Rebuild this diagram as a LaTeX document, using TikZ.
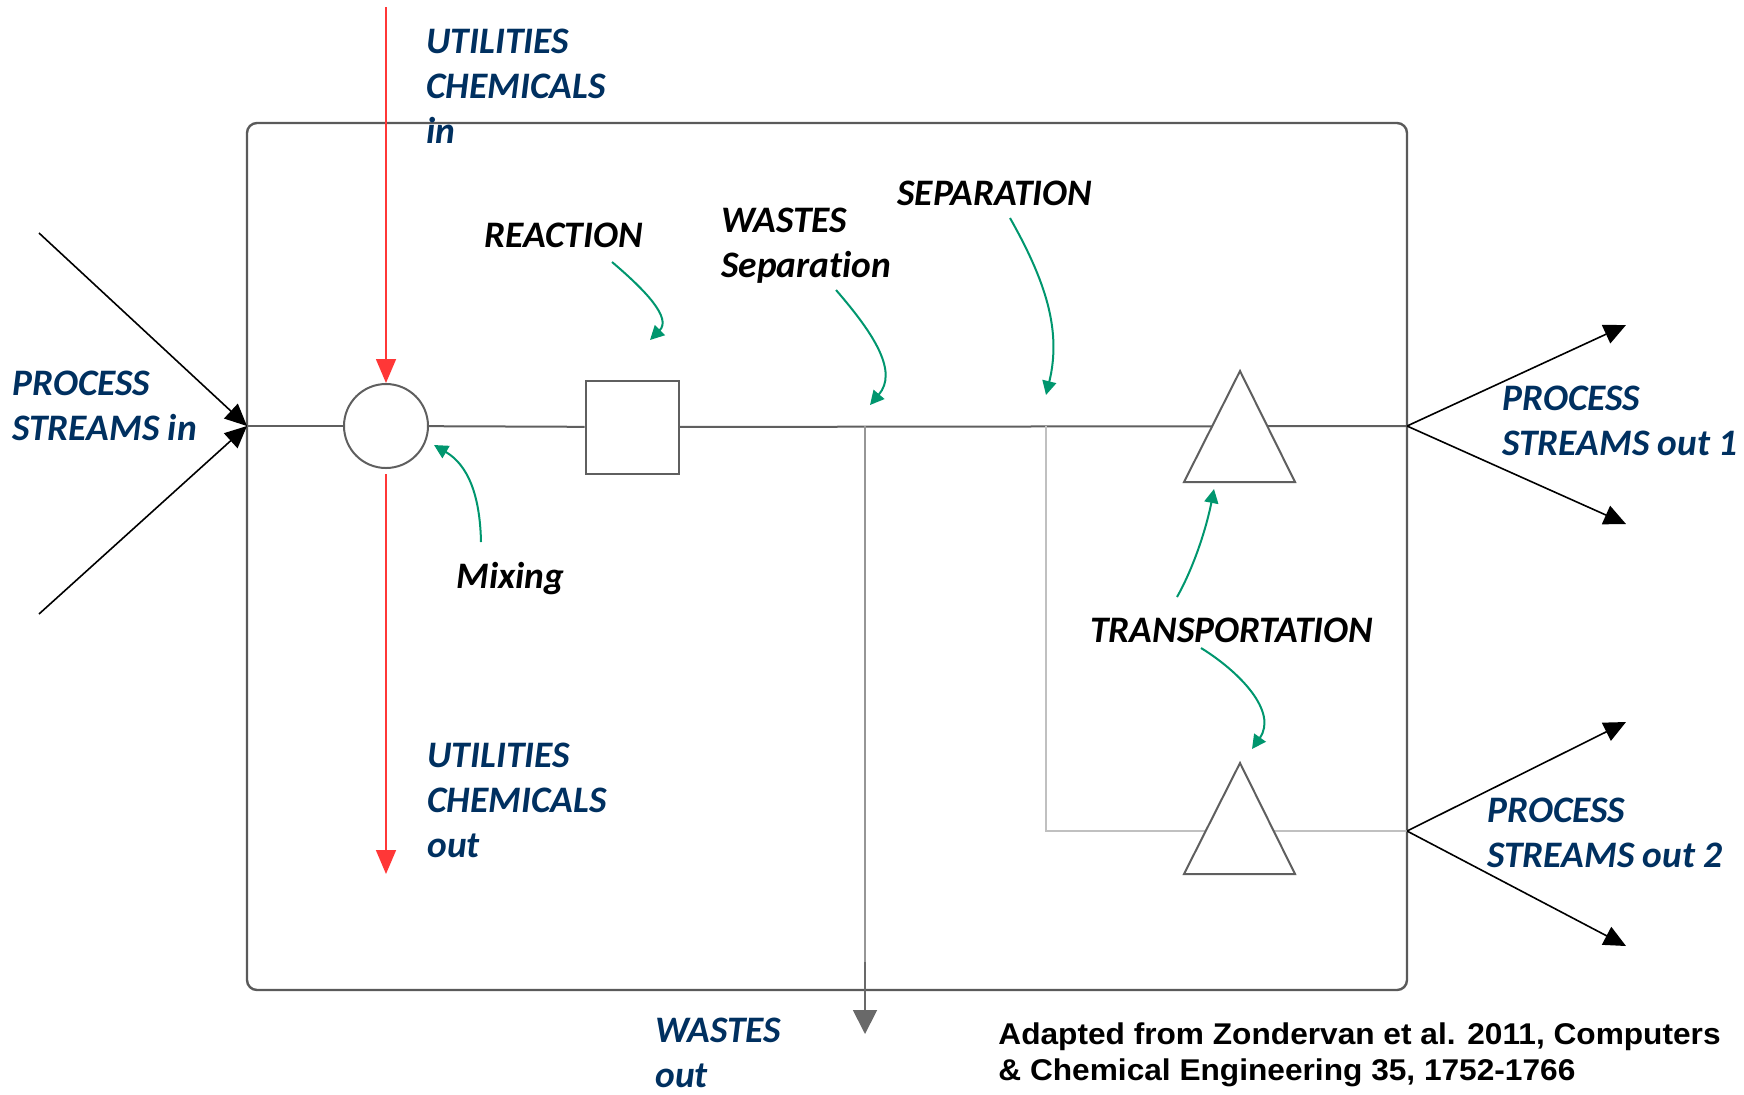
\documentclass[tikz,border=0pt]{standalone}
\usepackage{fontspec}
\setmainfont{Carlito}[RawFeature=-liga]
\newfontfamily\citefont{Liberation Sans}[FakeStretch=1.055]
\usetikzlibrary{arrows.meta,calc}
\definecolor{navy}{RGB}{0,48,96}
\definecolor{grn}{RGB}{0,150,110}
\definecolor{redl}{RGB}{255,55,55}
\definecolor{boxgray}{RGB}{90,90,90}
\definecolor{flowgray}{RGB}{95,95,95}
\definecolor{lightg}{RGB}{192,192,192}
\definecolor{wasteg}{RGB}{150,150,150}
\begin{document}
\begin{tikzpicture}[x=0.5pt,y=-0.5pt,
  lbl/.style={font=\fontsize{18.7}{22.5}\selectfont\bfseries\itshape, inner sep=0pt, anchor=base west, align=left},
  bluelbl/.style={lbl, text=navy},
  blacklbl/.style={lbl, text=black},
  flow/.style={draw=flowgray, line width=1pt},
  unit/.style={draw=flowgray, fill=white, line width=1pt, inner sep=0pt},
  redarrow/.style={draw=redl, line width=0.8pt, -{Triangle[length=12pt,width=10pt]}},
  blkarrow/.style={draw=black, line width=0.8pt, -{Triangle[length=11pt,width=10pt]}},
  grnarrow/.style={draw=grn, line width=1pt, -{Triangle[length=7pt,width=7pt]}},
  wastearrow/.style={draw=wasteg!70!black, line width=0.9pt, -{Triangle[length=12pt,width=12pt]}}
]
\useasboundingbox (0,0) rectangle (1744,1094);

% system box
\draw[draw=boxgray, line width=1.2pt, rounded corners=5pt] (247,123) rectangle (1407,990);

% key coordinates
\coordinate (inlet) at (247,426);
\coordinate (out1) at (1407,426);
\coordinate (out2) at (1407,831);
\coordinate (wj) at (865,426);
\coordinate (wlow) at (865,962);
\coordinate (wout) at (865,1034);
\coordinate (sj) at (1046,426);
\coordinate (sc) at (1046,831);
\coordinate (pin1) at (39,233);
\coordinate (pin2) at (39,614);
\coordinate (o1a) at (1626,325);
\coordinate (o1b) at (1626,524);
\coordinate (o2a) at (1626,722);
\coordinate (o2b) at (1626,946);
\coordinate (uin) at (386,7);
\coordinate (uout) at (386,874);

% units
\node[unit, circle, minimum size=42pt] (mix) at (386,426) {};
\node[unit, minimum size=46.5pt] (reactor) at (632,427) {};

% flows
\draw[flow] (inlet) -- (mix);
\draw[flow] (mix) -- (reactor);
\draw[flow] (reactor) -- (out1);
\draw[draw=wasteg, line width=0.8pt] (wj) -- (wlow);
\draw[wastearrow] (wlow) -- (wout);
\draw[draw=lightg, line width=1pt] (sj) -- (sc) -- (out2);

% pumps / transport
\draw[unit] (1184,482) -- (1240,371) -- (1295,482) -- cycle;
\draw[unit] (1184,874) -- (1240,763) -- (1295,874) -- cycle;

% utilities
\draw[redarrow] (uin) -- (mix);
\draw[redarrow, shorten <=2.5pt] (mix) -- (uout);

% process streams
\draw[blkarrow] (pin1) -- (inlet);
\draw[blkarrow] (pin2) -- (inlet);
\draw[blkarrow] (out1) -- (o1a);
\draw[blkarrow] (out1) -- (o1b);
\draw[blkarrow] (out2) -- (o2a);
\draw[blkarrow] (out2) -- (o2b);

% labels (anchored at the baseline of the last line)
\node[bluelbl] (lpin) at (12,440) {PROCESS\\STREAMS in};
\node[bluelbl] (luin) at (426,143) {UTILITIES\\CHEMICALS\\in};
\node[bluelbl] (luout) at (427,857) {UTILITIES\\CHEMICALS\\out};
\node[bluelbl] (lo1) at (1502,455) {PROCESS\\STREAMS out 1};
\node[bluelbl] (lo2) at (1487,867) {PROCESS\\STREAMS out 2};
\node[bluelbl] (lwout) at (655,1087) {WASTES\\out};
\node[blacklbl] (lreac) at (484,247) {REACTION};
\node[blacklbl] (lwsep) at (721,277) {WASTES\\Separation};
\node[blacklbl] (lsep) at (897,205) {SEPARATION};
\node[blacklbl] (lmix) at (456,588) {Mixing};
\node[blacklbl] (ltrans) at (1090,642) {TRANSPORTATION};
\node[inner sep=0pt, anchor=base west, align=left, font=\citefont\bfseries\fontsize{15}{18}\selectfont] (cite) at (998,1080)
  {Adapted from Zondervan et al. 2011, Computers\\\& Chemical Engineering 35, 1752-1766};

% green pointer arrows
\coordinate (gr0) at (612,262);  \coordinate (gr1) at (650,340);
\coordinate (gw0) at (836,290);  \coordinate (gw1) at (870,405);
\coordinate (gs0) at (1010,218); \coordinate (gs1) at (1046,395);
\coordinate (gm0) at (481,542);  \coordinate (gm1) at (434,445);
\coordinate (gt0) at (1177,597); \coordinate (gt1) at (1214,489);
\coordinate (gd0) at (1201,648); \coordinate (gd1) at (1252,749);
\draw[grnarrow] (gr0) .. controls (645,290) and (672,318) .. (gr1);
\draw[grnarrow] (gw0) .. controls (875,335) and (898,372) .. (gw1);
\draw[grnarrow] (gs0) .. controls (1045,280) and (1062,330) .. (gs1);
\draw[grnarrow] (gm0) .. controls (480,495) and (468,465) .. (gm1);
\draw[grnarrow] (gt0) .. controls (1195,565) and (1207,525) .. (gt1);
\draw[grnarrow] (gd0) .. controls (1240,672) and (1278,712) .. (gd1);
\end{tikzpicture}
\end{document}
